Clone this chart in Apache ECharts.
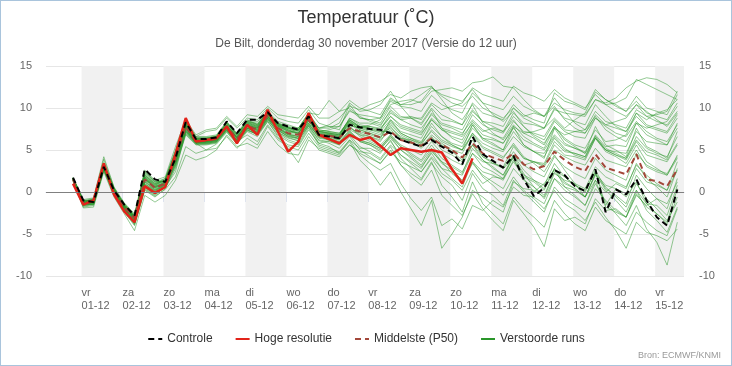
<!DOCTYPE html>
<html><head><meta charset="utf-8">
<script src="https://cdn.jsdelivr.net/npm/echarts@6/dist/echarts.min.js"></script>
<style>
html,body{margin:0;padding:0;background:#fff;}
#wrap{width:732px;height:366px;box-sizing:border-box;border:1px solid #a9c4dc;}
#chart{width:730px;height:364px;}
</style></head>
<body><div id="wrap"><div id="chart"></div></div>
<script>
// Time axis: hours relative to 01-12 00:00; first step 30-11 19:00, 6-hourly
const firstHour = -5;
const stepHours = 6;
const dayLabels = ['vr\n01-12','za\n02-12','zo\n03-12','ma\n04-12','di\n05-12','wo\n06-12','do\n07-12','vr\n08-12','za\n09-12','zo\n10-12','ma\n11-12','di\n12-12','wo\n13-12','do\n14-12','vr\n15-12'];
const shadedDayIdx = [0,2,4,6,8,10,12,14];

const controle = [1.7, -1.0,-1.2,3.0,0.2, -1.5,-2.8,2.7,1.5, 1.2,4.0,8.3,6.3, 6.3,6.5,8.4,7.0, 8.6,8.6,9.5,8.2, 7.8,7.4,9.0,6.8, 6.6,6.4,8.0,7.7, 7.5,7.4,7.0,6.2, 5.8,5.4,6.2,5.4, 4.7,3.3,6.6,4.5, 3.7,2.9,4.3,1.5, -0.5,0.5,2.6,2.0, 0.7,0.1,2.7,-2.4, 0.3,-0.3,1.5,-1.0, -3.0,-4.0,0.3];
const hogeResolutie = [1.0, -1.5,-1.0,3.4,-0.3, -2.3,-3.6,0.7,-0.1, 0.6,4.5,8.8,6.0, 6.2,6.4,7.8,5.8, 8.0,6.8,9.8,7.2, 4.8,6.0,9.4,6.8, 6.3,5.8,6.8,6.2, 6.5,5.5,4.4,5.2, 5.0,4.8,5.0,4.7, 2.7,1.0,4.0];
const middelste = [1.5, -1.3,-1.0,3.1,0.0, -1.8,-3.1,1.5,0.5, 1.0,4.0,7.8,6.0, 6.1,6.3,7.8,6.3, 7.9,7.4,9.1,7.6, 7.0,6.8,8.6,6.8, 6.7,6.5,7.6,7.2, 6.9,6.5,7.2,6.2, 5.9,5.5,6.4,5.6, 5.0,4.1,5.8,4.6, 4.1,3.7,4.6,3.3, 2.7,3.1,4.8,3.8, 3.0,2.5,4.5,2.9, 2.5,2.1,4.5,1.5, 1.3,0.7,2.7];

const m01 = [1.6, -1.2,-0.8,3.4,0.4, -1.6,-3.0,1.8,0.8, 1.4,4.6,7.9,6.2, 6.1,6.4,7.6,6.6, 7.9,7.6,9.2,8.0, 7.4,7.0,8.8,7.2, 7.4,7.8,9.6,9.2, 9.0,8.8,10.8,10.2, 10.0,9.6,11.5,10.4, 9.8,9.4,11.8,10.6, 10.2,9.8,11.4,10.2, 9.6,9.0,10.6,9.8, 9.4,9.2,11.0,10.4, 10.6,11.2,13.4,12.8, 12.2,11.6,11.0];
const m02 = [1.4, -1.6,-1.4,2.8,-0.2, -2.2,-3.8,0.4,-0.4, 0.6,2.4,7.2,5.8, 5.0,5.2,6.6,5.2, 6.4,5.6,7.8,6.2, 5.4,5.0,7.0,5.4, 5.0,4.6,6.2,5.2, 5.2,4.6,6.2,4.0, 2.8,1.6,3.6,0.8, -0.6,-2.4,1.2,-1.4, -2.6,-3.8,-0.6,-2.0, -3.0,-4.2,-1.0,-2.6, -3.8,-4.6,-1.8,-3.4, -4.2,-5.0,-2.4,-3.6, -4.6,-5.2,-2.0];
const m03 = [1.7, -1.0,-1.1,3.1,0.3, -1.4,-2.9,2.4,1.2, 1.3,4.2,8.2,6.4, 6.4,6.6,8.2,6.8, 8.4,8.2,9.4,8.0, 7.6,7.2,8.9,6.9, 6.8,6.6,8.2,7.8, 7.4,7.0,7.6,6.6, 6.0,5.4,6.8,5.8, 5.0,4.6,7.0,5.4, 4.8,4.2,5.6,4.0, 3.6,3.0,5.0,4.2, 3.6,3.2,5.2,3.8, 3.4,3.0,5.0,3.0, 2.4,2.0,4.0];
const m04 = [1.5, -1.4,-1.2,3.3,0.1, -1.9,-3.3,1.2,0.3, 0.9,3.8,7.6,5.9, 6.0,6.2,7.9,6.4, 7.7,7.2,9.0,7.6, 6.9,6.6,8.4,6.8, 6.8,6.4,8.0,7.6, 8.0,8.6,10.4,10.8, 11.0,10.6,12.0,12.2, 12.4,12.0,13.0,13.2, 13.7,12.6,12.4,11.0, 9.8,9.0,10.2,8.6, 7.6,7.0,8.8,7.8, 7.0,6.6,8.4,7.2, 6.4,6.0,8.0];
const m05 = [1.3, -1.8,-1.6,2.6,-0.4, -2.4,-4.0,0.2,-0.6, 0.4,2.8,6.8,5.6, 5.6,5.8,7.2,5.8, 7.4,6.8,8.6,7.0, 6.2,5.8,7.8,5.8, 5.4,4.6,6.0,3.8, 2.6,0.8,2.4,0.0, -2.0,-4.0,-1.0,-6.7, -5.0,-3.0,0.2,-0.6, -1.6,-2.4,1.2,0.4, 0.2,-0.6,2.2,1.4, 1.0,0.4,3.0,1.8, 1.2,0.6,3.2,2.0, 1.0,0.2,2.6];
const m06 = [1.6, -1.1,-0.9,3.9,0.5, -1.5,-2.8,2.0,1.0, 1.6,4.8,8.4,6.6, 6.6,6.8,8.4,7.0, 8.6,8.0,9.6,8.4, 8.0,7.6,9.4,7.6, 7.8,7.4,10.4,8.8, 8.6,8.2,10.2,9.0, 8.8,8.2,10.0,8.6, 8.4,8.0,10.6,9.4, 9.0,8.6,10.4,9.2, 8.6,8.2,11.8,10.8, 10.4,9.8,12.2,11.0, 10.2,9.6,11.4,10.0, 9.6,9.2,11.6];
const m07 = [1.5, -1.3,-1.0,3.0,0.0, -2.0,-3.4,1.0,0.2, 0.8,3.6,7.4,5.8, 5.9,6.1,7.6,6.1, 7.6,7.0,8.8,7.4, 6.6,6.4,8.0,6.6, 6.6,6.4,7.6,7.0, 6.6,6.0,7.8,6.4, 6.0,5.2,6.6,5.0, 4.4,3.6,5.6,3.8, 3.0,2.0,4.4,2.6, 1.4,0.4,2.8,0.6, -0.4,-1.6,1.0,-1.2, -2.6,-4.0,-1.6,-4.4, -6.0,-8.7,-3.6];
const m08 = [1.6, -1.2,-1.3,2.9,0.1, -1.7,-3.1,1.4,0.4, 1.1,3.9,7.7,6.0, 6.2,6.3,7.7,6.2, 7.8,7.4,9.1,7.7, 7.0,6.8,8.6,6.9, 6.4,6.0,7.4,6.8, 6.2,5.6,6.8,5.6, 5.0,4.4,6.0,4.6, 3.8,3.2,5.6,4.2, 3.4,2.8,4.8,3.2, 2.4,1.8,4.2,3.0, 2.2,1.6,4.0,2.6, 2.0,1.4,4.6,3.2, 2.6,2.2,4.2];
const m09 = [1.4, -1.5,-1.2,3.2,0.2, -1.8,-3.2,1.6,0.6, 1.0,4.2,8.0,6.2, 6.0,6.2,7.8,6.4, 8.0,7.6,9.2,7.8, 7.2,7.0,8.6,7.0, 6.8,6.6,8.4,7.4, 7.0,6.6,8.2,7.0, 6.4,6.0,7.8,6.6, 5.8,5.4,7.6,6.4, 6.2,5.8,7.8,7.0, 7.2,7.6,9.8,9.4, 9.2,9.0,11.0,10.6, 11.2,12.4,13.2,13.6, 13.4,12.8,11.8];
const m10 = [1.5, -1.4,-1.5,2.7,-0.1, -2.1,-3.6,0.6,-0.2, 0.5,3.0,6.9,5.7, 5.7,5.9,7.3,5.9, 7.3,6.9,8.7,7.1, 6.5,6.1,7.9,6.1, 5.8,5.2,6.6,5.0, 4.2,3.4,5.0,3.2, 1.8,0.8,2.6,-0.4, -1.6,-2.8,-0.2,-2.0, -3.4,-4.6,-1.0,-2.6, -4.2,-6.5,-2.0,-3.4, -3.0,-3.8,-0.8,-2.2, -2.0,-3.0,0.2,-1.4, -1.6,-2.8,0.8];
const m11 = [1.7, -0.9,-0.7,4.2,0.6, -1.3,-2.6,2.6,1.4, 1.8,5.4,8.6,6.8, 7.4,7.6,9.0,7.8, 9.2,9.0,10.2,9.2, 9.0,8.8,10.2,8.8, 8.8,9.6,10.9,10.0, 9.6,9.2,11.2,10.4, 10.8,11.6,12.5,11.4, 10.6,10.2,11.4,10.0, 9.4,8.8,10.0,8.8, 8.2,7.6,8.8,7.6, 8.6,9.4,11.9,11.0, 10.4,9.6,10.8,9.4, 9.0,8.6,10.6];
const m12 = [1.5, -1.3,-1.1,3.1,0.2, -1.8,-3.1,1.5,0.6, 1.2,4.4,8.1,6.3, 6.3,6.5,8.0,6.6, 8.2,7.8,9.3,7.9, 7.5,7.3,9.0,7.4, 7.2,7.0,8.6,7.6, 7.2,6.8,8.4,7.2, 6.8,6.4,8.6,7.4, 7.0,6.6,8.2,6.8, 6.4,5.8,7.6,6.2, 5.6,5.0,6.8,5.6, 5.2,4.8,6.6,5.2, 4.6,4.0,6.2,4.8, 4.4,3.8,5.8];
const m13 = [1.3, -1.9,-1.8,2.4,-0.6, -2.6,-4.6,-0.4,-1.2, -0.4,1.4,4.4,3.8, 4.2,5.0,6.8,5.4, 5.8,5.2,7.2,5.6, 4.6,4.4,6.6,5.0, 4.6,4.2,5.6,4.8, 4.6,3.8,5.4,3.2, 2.2,1.4,3.4,1.8, 0.8,-1.0,2.2,0.4, -0.4,-1.6,1.4,0.0, -1.2,-2.4,0.6,-0.8, -1.6,-2.4,0.4,-1.0, -2.2,-3.0,-0.2,-1.8, -2.6,-3.8,-0.6];
const m14 = [1.6, -1.1,-1.0,3.3,0.3, -1.6,-3.0,1.9,0.9, 1.5,4.6,8.3,6.5, 6.5,6.7,8.3,6.9, 8.4,8.0,9.5,8.2, 7.8,7.6,9.2,7.6, 7.6,8.2,10.6,9.6, 9.8,10.4,12.0,10.2, 8.8,8.0,9.8,7.6, 6.4,5.8,8.0,6.2, 5.6,5.0,7.2,5.6, 4.8,4.2,6.4,5.0, 4.6,4.2,6.8,5.4, 5.6,5.4,8.2,7.6, 8.0,8.4,10.2];
const m15 = [1.4, -1.7,-1.5,2.6,-0.3, -2.3,-3.9,0.3,-0.5, 0.3,1.8,5.4,4.6, 5.0,5.7,7.1,5.7, 7.2,6.6,8.4,6.8, 6.0,5.6,7.6,5.6, 5.2,4.8,6.2,4.4, 3.4,2.6,3.4,1.0, -0.8,-2.2,-0.6,-4.0, -3.2,-4.4,-1.6,-2.2, -1.0,-1.8,0.6,-0.4, -0.6,-1.4,1.6,0.6, 0.2,-0.6,2.2,0.8, 0.4,-0.2,2.8,1.2, 0.8,0.2,3.6];
const m16 = [1.6, -1.2,-0.9,3.4,0.4, -1.5,-2.9,2.2,1.1, 1.4,4.8,8.4,6.4, 6.4,6.6,8.1,6.7, 8.3,7.9,9.4,8.1, 7.7,7.4,9.1,7.3, 7.0,6.8,8.8,8.0, 7.8,7.4,9.0,8.0, 7.6,7.2,9.4,8.2, 7.8,7.4,9.6,8.4, 8.2,7.8,10.0,9.0, 9.4,9.0,11.2,9.6, 8.2,7.4,9.0,7.4, 6.6,6.0,8.2,6.8, 6.2,5.6,7.6];
const m17 = [1.5, -1.3,-1.2,3.0,0.0, -1.9,-3.4,1.2,0.2, 0.9,3.8,7.6,6.0, 6.0,6.2,7.6,6.2, 7.9,7.4,9.0,7.6, 6.8,6.6,8.4,6.8, 6.4,6.2,7.8,6.6, 6.0,5.4,6.6,5.4, 4.4,3.6,5.2,3.6, 2.2,1.2,3.4,2.0, 1.2,0.4,2.8,1.4, 0.6,-0.4,2.4,1.0, 0.4,-0.6,2.0,0.6, -0.6,-1.8,1.0,-0.8, -2.0,-3.4,-1.2];
const m18 = [1.7, -1.0,-0.8,3.5,0.5, -1.4,-2.7,2.3,1.2, 1.6,5.0,8.5,6.6, 7.2,7.4,8.8,7.6, 8.8,8.6,10.0,8.8, 8.4,8.2,9.8,8.2, 7.8,7.8,9.8,8.8, 8.6,8.8,11.0,10.4, 10.4,10.8,12.4,11.6, 11.2,10.8,12.2,10.6, 9.2,8.4,9.6,7.8, 6.6,5.8,7.8,6.4, 5.6,5.2,7.4,6.0, 6.2,6.8,9.4,8.6, 9.4,9.8,11.0];
const m19 = [1.5, -1.3,-1.2,3.2,0.2, -1.8,-3.2,1.6,0.5, 1.0,4.0,7.8,6.1, 6.1,6.3,7.8,6.4, 8.0,7.5,9.2,7.8, 7.2,6.9,8.8,7.2, 6.9,6.7,8.4,7.4, 7.0,6.4,8.0,6.8, 6.2,5.6,7.4,6.2, 5.6,5.0,7.0,5.8, 5.2,4.8,6.6,5.4, 4.8,4.6,6.6,5.2, 4.4,4.0,6.4,5.0, 4.8,4.6,7.2,6.0, 5.8,5.6,8.2];
const m20 = [1.4, -1.6,-1.4,2.8,-0.2, -2.2,-3.7,0.5,-0.3, 0.6,3.2,7.0,5.7, 5.7,5.9,7.3,5.9, 7.4,6.9,8.6,7.1, 6.4,6.1,7.9,6.2, 6.0,5.6,7.0,6.0, 5.6,5.0,6.6,5.0, 4.2,3.2,5.0,3.4, 2.6,1.4,3.6,1.8, 0.8,-0.4,1.8,0.2, -0.8,-2.0,0.2,-1.4, -2.2,-3.4,-1.2,-3.0, -4.6,-6.7,-3.6,-4.8, -5.2,-5.8,-4.4];
const m21 = [1.6, -1.1,-0.9,3.4,0.4, -1.6,-3.0,1.8,0.8, 1.3,4.4,8.0,6.3, 6.3,6.5,8.0,6.6, 8.2,7.8,9.4,8.0, 7.6,7.4,9.2,7.6, 8.0,8.8,10.2,9.8, 10.4,10.8,11.6,11.2, 12.0,12.4,12.6,11.0, 9.4,8.6,10.4,8.2, 7.0,6.2,8.0,6.6, 5.8,5.2,7.6,6.8, 7.2,7.4,9.6,8.4, 8.0,7.6,9.8,9.0, 9.2,9.6,12.0];
const m22 = [1.5, -1.4,-1.3,2.9,0.0, -2.0,-3.5,0.8,0.0, 0.7,3.4,7.3,5.9, 5.8,6.0,7.4,6.0, 7.6,7.1,8.8,7.3, 6.6,6.3,8.1,6.4, 6.2,5.8,7.2,6.2, 5.8,5.2,6.4,5.0, 4.0,3.0,4.6,2.8, 1.6,0.6,3.6,2.4, 2.0,1.4,3.8,2.0, 1.4,0.8,3.4,1.8, 0.8,0.0,2.6,0.4, -0.4,-1.4,2.0,0.4, -0.8,-2.0,1.6];
const m23 = [1.6, -1.2,-1.0,3.3,0.3, -1.7,-3.1,1.7,0.7, 1.2,4.3,8.0,6.2, 6.2,6.4,7.9,6.5, 8.1,7.7,9.3,7.9, 7.4,7.1,8.9,7.2, 7.0,6.8,8.6,7.8, 7.6,7.2,8.6,7.6, 7.2,6.8,8.8,7.6, 7.2,6.8,9.2,8.0, 7.4,7.0,9.0,7.8, 6.8,6.2,8.4,7.2, 6.6,6.4,8.8,8.0, 8.4,8.8,10.4,9.6, 8.6,7.8,9.4];
const m24 = [1.7, -1.0,-1.2,3.0,0.2, -1.5,-2.9,2.5,1.3, 1.2,4.0,8.2,6.3, 6.3,6.5,8.3,6.9, 8.5,8.4,9.4,8.1, 7.7,7.3,8.9,6.8, 6.6,6.4,7.9,7.6, 7.4,7.2,7.2,6.2, 5.8,5.4,6.4,5.6, 4.8,3.8,6.2,4.2, 3.6,2.8,4.0,1.6, 0.0,1.0,2.6,1.8, 0.8,0.2,2.4,-1.6, 0.4,-0.6,1.2,-1.4, -2.6,-3.6,0.4];
const m25 = [1.5, -1.3,-1.1,3.1,0.1, -1.8,-3.2,1.5,0.5, 1.0,4.0,7.8,6.1, 6.0,6.2,7.7,6.3, 7.9,7.3,9.0,7.6, 7.0,7.6,9.4,9.2, 10.9,9.6,10.0,9.0, 8.4,8.0,9.6,8.6, 8.0,7.6,9.2,8.0, 7.6,7.0,8.6,7.4, 6.8,6.4,8.4,7.2, 7.0,6.6,8.6,7.4, 7.2,7.0,9.2,8.0, 7.6,7.2,9.0,7.8, 7.4,7.0,8.8];
const m26 = [1.4, -1.5,-1.3,2.9,-0.1, -2.1,-3.6,0.7,-0.1, 0.6,3.4,7.2,5.8, 5.8,6.0,7.4,6.0, 7.5,6.8,8.4,6.6, 5.2,3.5,6.2,5.2, 4.8,4.4,5.6,4.6, 4.0,3.4,4.8,3.6, 3.0,2.4,4.2,2.8, 2.4,2.0,4.6,3.6, 3.4,3.0,5.4,4.0, 3.6,3.2,5.6,4.4, 4.2,3.8,6.4,5.0, 4.4,4.0,6.6,5.2, 4.6,4.2,6.6];
const m27 = [1.5, -1.2,-1.0,3.2,0.3, -1.7,-3.0,1.7,0.7, 1.1,4.2,7.9,6.1, 6.2,6.4,8.0,6.5, 8.0,7.6,9.2,7.9, 7.3,7.0,8.7,7.1, 7.0,6.8,8.8,8.2, 8.2,7.8,9.8,8.8, 9.0,8.6,10.4,9.2, 8.6,8.0,9.8,8.4, 7.8,7.2,8.6,7.0, 6.4,5.6,7.8,6.2, 5.4,4.6,6.4,4.8, 4.2,3.4,5.6,3.6, 2.8,2.0,4.4];
const m28 = [1.5, -1.5,-1.4,2.8,-0.1, -2.0,-3.5,0.9,0.1, 0.8,3.5,7.4,5.9, 5.9,6.1,7.5,6.1, 7.6,7.2,8.9,7.4, 6.8,6.4,8.2,6.6, 6.2,5.6,6.8,5.4, 4.8,4.0,5.6,4.4, 3.6,2.8,4.8,3.6, 3.0,2.2,5.2,3.8, 2.8,2.0,4.2,2.2, 0.6,-0.8,1.6,0.2, -0.6,-1.6,1.4,0.0, 1.0,0.4,3.4,1.6, 0.6,-0.6,2.8];
const m29 = [1.6, -1.1,-1.0,3.3,0.3, -1.6,-3.0,2.0,0.9, 1.4,4.6,8.2,6.4, 6.4,6.6,8.2,6.8, 8.3,7.9,9.5,8.1, 7.6,7.4,9.0,7.4, 7.2,7.0,8.6,7.8, 7.6,7.4,9.4,8.6, 8.8,8.8,10.6,9.8, 10.2,10.6,12.4,11.6, 11.2,10.8,12.6,11.8, 11.4,10.8,12.2,11.2, 10.6,10.0,11.6,10.4, 9.6,9.0,10.4,9.0, 8.4,8.0,9.6];
const m30 = [1.4, -1.4,-1.2,3.0,0.1, -1.9,-3.3,1.3,0.3, 0.9,3.8,7.6,6.0, 6.0,6.2,7.6,6.2, 7.8,7.3,9.0,7.5, 6.9,6.6,8.5,6.9, 6.6,6.2,7.8,6.8, 6.6,6.2,7.4,6.4, 6.2,5.8,7.2,6.0, 5.4,5.0,6.8,5.2, 4.6,4.0,5.8,4.2, 3.4,2.4,4.4,2.6, 1.0,-0.6,1.4,-1.8, -2.4,-3.0,-0.4,-1.6, -0.8,-1.4,1.2];
const m31 = [1.6, -1.1,-1.1,3.2,0.3, -1.6,-3.0,2.1,1.0, 1.3,4.4,8.1,6.3, 6.4,6.6,8.2,6.8, 8.4,8.1,9.5,8.2, 7.7,7.4,9.0,7.2, 7.1,6.9,8.4,7.8, 7.8,7.6,9.0,7.8, 7.4,7.0,8.6,7.4, 6.6,6.2,8.4,7.2, 7.6,7.2,9.4,8.2, 8.0,7.6,10.0,8.8, 8.4,8.0,10.4,9.0, 7.8,7.2,9.4,8.0, 7.6,7.2,9.2];
const m32 = [1.5, -1.4,-1.3,2.9,0.0, -2.0,-3.4,1.0,0.1, 0.8,3.6,7.4,5.9, 5.9,6.1,7.5,6.1, 7.6,7.1,8.8,7.3, 6.7,6.4,8.2,6.5, 6.3,5.9,7.3,6.0, 5.6,4.8,6.0,4.4, 3.4,2.4,4.0,2.2, 1.4,0.2,2.6,1.0, 1.8,1.6,4.4,3.2, 3.6,3.4,6.0,4.8, 4.6,4.2,6.6,5.0, 4.4,3.8,6.0,4.4, 4.0,3.6,5.6];
const m33 = [1.5, -1.3,-1.1,3.1,0.2, -1.7,-3.1,1.6,0.6, 1.1,4.1,7.9,6.2, 6.2,6.4,7.9,6.5, 8.1,7.7,9.3,7.8, 7.3,7.0,8.7,7.0, 6.9,6.6,8.2,7.2, 6.8,6.4,8.6,7.0, 6.4,5.8,8.2,6.6, 5.6,5.0,8.0,6.4, 5.8,5.0,7.8,5.6, 4.8,4.0,7.6,5.8, 5.2,4.6,7.8,5.6, 5.0,4.2,7.6,5.4, 4.8,4.0,7.2];
const m34 = [1.4, -1.6,-1.4,2.7,-0.2, -2.2,-3.7,0.6,-0.2, 0.6,3.2,7.1,5.8, 5.8,6.0,7.4,6.0, 6.8,6.0,8.0,6.4, 5.6,5.4,7.4,5.8, 6.1,5.7,7.1,6.1, 5.8,5.2,6.8,5.4, 4.6,3.8,5.6,4.0, 3.2,2.4,4.6,3.0, 2.4,1.6,3.6,1.8, 1.2,0.2,2.8,1.2, 0.4,-0.6,2.2,0.2, -1.0,-2.4,0.2,-2.2, -3.4,-4.8,-1.8];
const verstoordeRuns = [m01,m02,m03,m04,m05,m06,m07,m08,m09,m10,m11,m12,m13,m14,m15,m16,m17,m18,m19,m20,m21,m22,m23,m24,m25,m26,m27,m28,m29,m30,m31,m32,m33,m34];

const xMin = -20.85, xMax = 352.9;
const dayHours = dayLabels.map((_, i) => i * 24);
const hourOf = k => firstHour + k * stepHours;
const toPairs = arr => arr.map((v, k) => [hourOf(k), v]);

const fontFamily = "'Liberation Sans', Arial, sans-serif";
const chart = echarts.init(document.getElementById('chart'));

const memberSeries = verstoordeRuns.map(arr => ({
  type: 'line', name: 'Verstoorde runs', data: toPairs(arr),
  symbol: 'none', silent: true, z: 2,
  lineStyle: { width: 1, color: '#2a962a', opacity: 0.5 },
  itemStyle: { color: '#2a962a' }
}));

const bandData = shadedDayIdx.map(i => [{ xAxis: dayHours[i] }, { xAxis: Math.min(dayHours[i] + 24, xMax) }]);

chart.setOption({
  animation: false,
  textStyle: { fontFamily },
  title: {
    text: 'Temperatuur (˚C)',
    subtext: 'De Bilt, donderdag 30 november 2017 (Versie do 12 uur)',
    left: 'center', top: 3, itemGap: 11,
    textStyle: { fontSize: 18, fontWeight: 'normal', color: '#333', fontFamily },
    subtextStyle: { fontSize: 12, color: '#555', fontFamily }
  },
  legend: {
    top: 327, left: 'center', itemGap: 22, itemWidth: 14, itemHeight: 10,
    itemStyle: { opacity: 0 },
    textStyle: { fontSize: 12, color: '#333', fontFamily },
    data: [
      { name: 'Controle' },
      { name: 'Hoge resolutie' },
      { name: 'Middelste (P50)' },
      { name: 'Verstoorde runs', lineStyle: { opacity: 1, width: 2, color: '#2a962a' } }
    ]
  },
  grid: { left: 45, right: 47, top: 65, bottom: 89 },
  xAxis: {
    type: 'value', min: xMin, max: xMax,
    axisLine: { lineStyle: { color: '#ccd6eb' } },
    axisTick: { show: true, customValues: dayHours, length: 10, lineStyle: { color: '#ccd6eb' } },
    axisLabel: {
      customValues: dayHours, align: 'left', color: '#666', fontSize: 11, lineHeight: 13, margin: 10,
      formatter: v => dayLabels[Math.round(v / 24)] || ''
    },
    splitLine: { show: false }
  },
  yAxis: [
    { type: 'value', min: -10, max: 15, interval: 5, position: 'left',
      axisLabel: { color: '#666', fontSize: 11, margin: 14 },
      axisLine: { show: false }, axisTick: { show: false },
      splitLine: { lineStyle: { color: '#e6e6e6' } } },
    { type: 'value', min: -10, max: 15, interval: 5, position: 'right',
      axisLabel: { color: '#666', fontSize: 11, margin: 15 },
      axisLine: { show: false }, axisTick: { show: false },
      splitLine: { show: false } }
  ],
  series: [
    { type: 'line', name: 'bands', data: [], z: 1, silent: true,
      markArea: { silent: true, itemStyle: { color: '#f1f1f1' }, data: bandData },
      markLine: { silent: true, symbol: 'none', label: { show: false },
        lineStyle: { color: '#808080', width: 1, type: 'solid' }, data: [{ yAxis: 0 }] } },
    ...memberSeries,
    { type: 'line', name: 'Middelste (P50)', data: toPairs(middelste), symbol: 'none', z: 3,
      lineStyle: { width: 2, color: '#a3473a', type: [6, 4] }, itemStyle: { color: '#a3473a' } },
    { type: 'line', name: 'Hoge resolutie', data: toPairs(hogeResolutie), symbol: 'none', z: 4,
      lineStyle: { width: 2.5, color: '#e2231a' }, itemStyle: { color: '#e2231a' } },
    { type: 'line', name: 'Controle', data: toPairs(controle), symbol: 'none', z: 5,
      lineStyle: { width: 2, color: '#000', type: [6, 4] }, itemStyle: { color: '#000' } }
  ],
  graphic: [
    { type: 'text', right: 10, bottom: 5,
      style: { text: 'Bron: ECMWF/KNMI', fill: '#999', fontSize: 9, fontFamily } }
  ]
});
</script></body></html>
